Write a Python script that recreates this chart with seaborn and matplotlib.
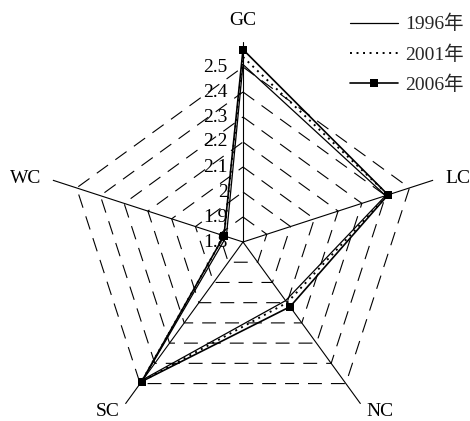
import numpy as np
import seaborn as sns
import matplotlib.pyplot as plt

# radar axes, clockwise from the top
axis_names = ['GC', 'LC', 'NC', 'SC', 'WC']
years = ['1996年', '2001年', '2006年']

vals_1996 = [2.51, 2.40, 2.09, 2.48, 1.87]
vals_2001 = [2.54, 2.41, 2.10, 2.49, 1.88]
vals_2006 = [2.57, 2.41, 2.12, 2.49, 1.88]

r_ticks = [1.8, 1.9, 2.0, 2.1, 2.2, 2.3, 2.4, 2.5]
r_min, r_max = 1.8, 2.6

sns.set_theme(style='white')
plt.rcParams['font.family'] = ['Liberation Serif', 'Noto Sans CJK SC']
plt.rcParams['lines.scale_dashes'] = False

fig = plt.figure(figsize=(4.70, 4.21), dpi=100)
ax = fig.add_axes([43 / 470, -21 / 421, 400 / 470, 400 / 421], projection='polar')
ax.set_theta_offset(np.pi / 2)
ax.set_theta_direction(-1)
ax.grid(False)
ax.set_xticks([])
ax.set_yticks([])
ax.spines['polar'].set_visible(False)
ax.patch.set_alpha(0)

n = len(axis_names)
theta = np.linspace(0, 2 * np.pi, n + 1)

def closed(v):
    return list(v) + [v[0]]

# dashed pentagon grid
for lvl in r_ticks[1:]:
    ax.plot(theta, [lvl] * (n + 1), color='black', lw=0.8, dashes=(10, 6.5))

# spokes
for t in theta[:-1]:
    ax.plot([t, t], [r_min, r_max], color='black', lw=0.8)

sns.lineplot(x=theta, y=closed(vals_1996), ax=ax, color='black', lw=0.9,
             sort=False, estimator=None, legend=False)
sns.lineplot(x=theta, y=closed(vals_2001), ax=ax, color='black', lw=1.4,
             dashes=False, sort=False, estimator=None, legend=False)
ax.lines[-1].set_dashes((1.4, 3.3))
sns.lineplot(x=theta, y=closed(vals_2006), ax=ax, color='black', lw=1.2,
             marker='s', markersize=5.5, markeredgewidth=0,
             sort=False, estimator=None, legend=False)

ax.set_ylim(r_min, r_max)
ax.set_xlabel('')
ax.set_ylabel('')

# radial tick labels along the GC spoke
for lvl in r_ticks:
    ax.annotate(f'{lvl:g}', xy=(0, lvl), xytext=(-11, 0), textcoords='offset points',
                ha='right', va='center', fontsize=14, color='black')

# axis names
label_pos = {
    'GC': (2.668, 'center', 'baseline'),
    'LC': (2.65, 'left', 'center_baseline'),
    'NC': (2.64, 'left', 'center'),
    'SC': (2.64, 'right', 'center'),
    'WC': (2.65, 'right', 'center_baseline'),
}
for t, name in zip(theta[:-1], axis_names):
    r, ha, va = label_pos[name]
    ax.text(t, r, name, ha=ha, va=va, fontsize=14, color='black')

handles = ax.lines[-3:]
fig.legend(handles=handles, labels=years, loc='upper right',
           bbox_to_anchor=(464 / 470, 1 - 15 / 421), frameon=False,
           fontsize=14, handlelength=2.47, handletextpad=0.36,
           labelspacing=0.6, borderpad=0, borderaxespad=0)

fig.savefig('out.png', dpi=100)
